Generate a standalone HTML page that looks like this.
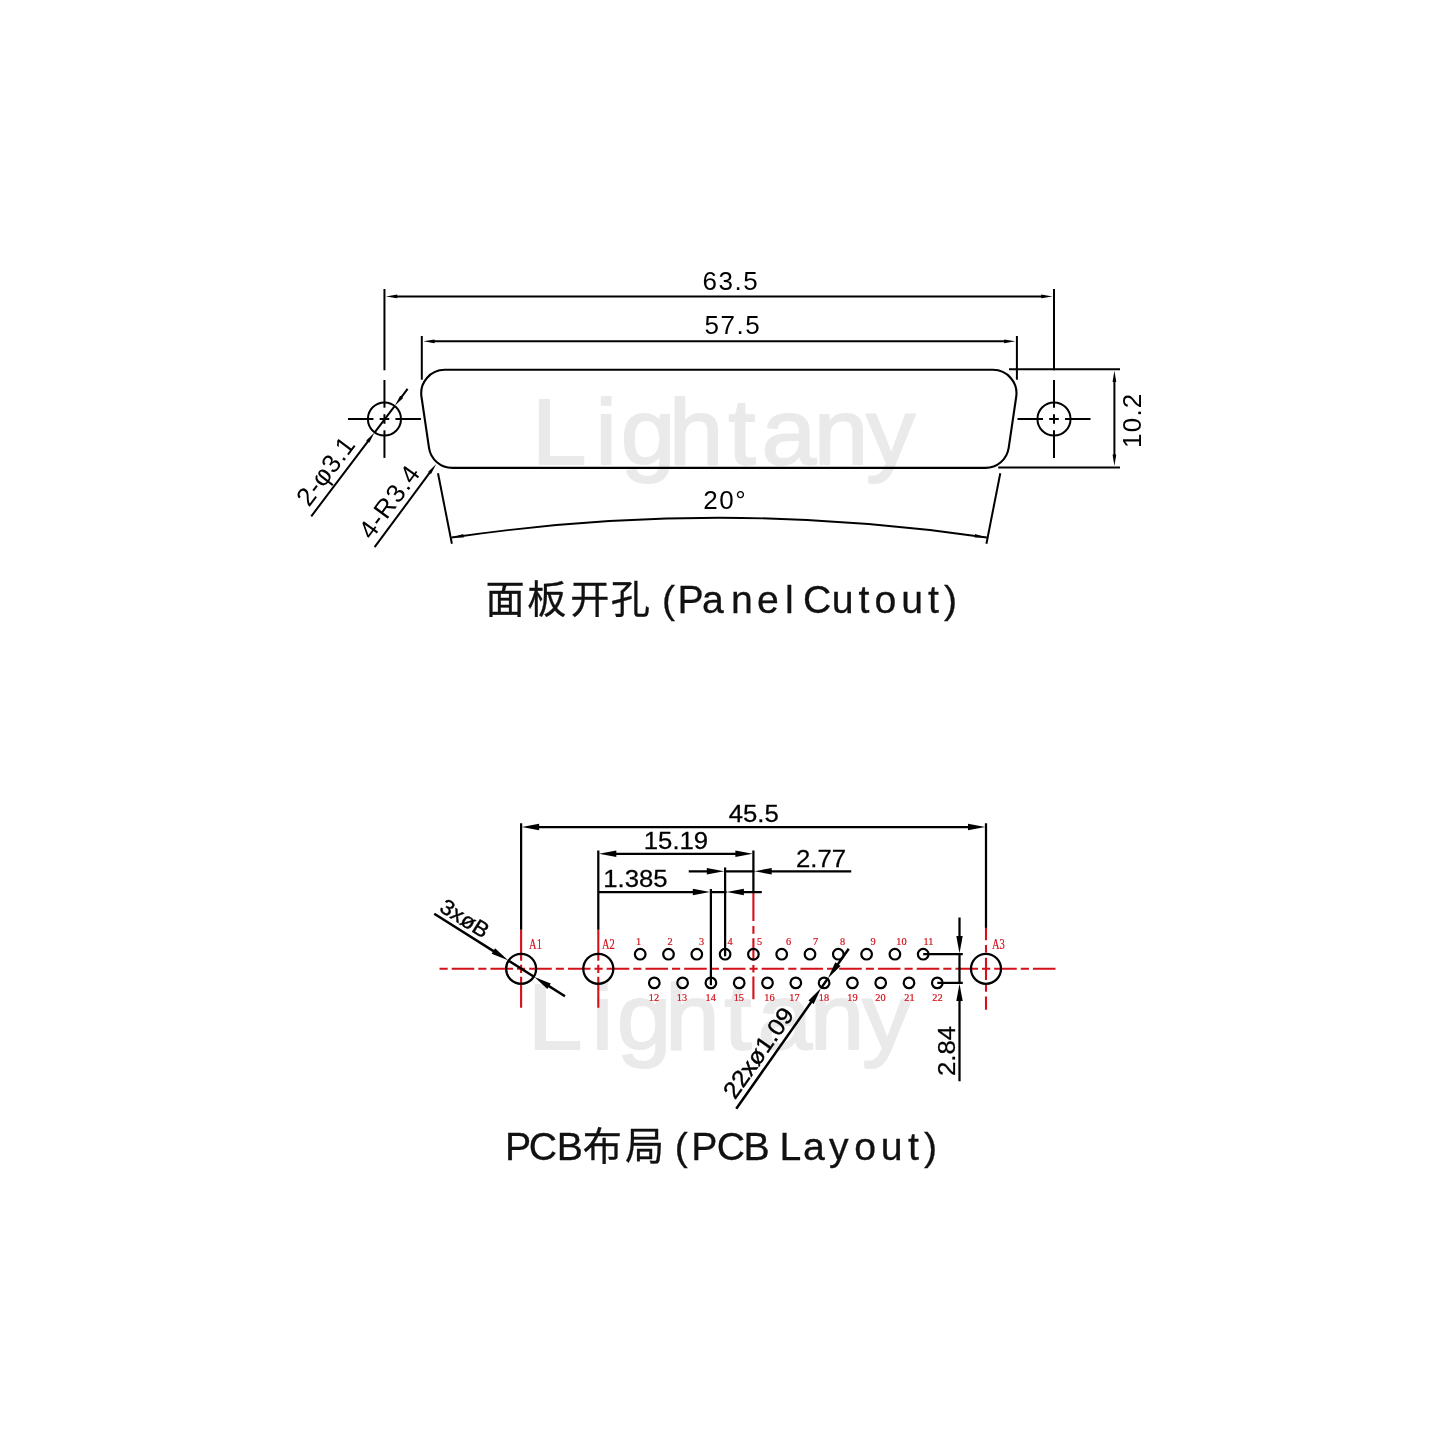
<!DOCTYPE html>
<html lang="zh">
<head>
<meta charset="utf-8">
<title>Panel Cutout / PCB Layout</title>
<style>
html,body{margin:0;padding:0;background:#fff;}
body{width:1440px;height:1440px;overflow:hidden;}
svg{display:block;will-change:transform;}
text{white-space:pre;}
</style>
</head>
<body>
<svg width="1440" height="1440" viewBox="0 0 1440 1440">
<rect width="1440" height="1440" fill="#fff"/>
<text x="497.0 556.4 580.1 625.1 680.6 711.7 760.5 809.4" y="463.9" transform="scale(1.07 1)" font-family='"Liberation Sans", "Noto Sans CJK SC", sans-serif' font-size="92" fill="#eaeaea" stroke="#eaeaea" stroke-width="1.8" stroke-linejoin="round">Lightany</text>
<text x="493.3 552.7 576.4 621.4 676.8 707.9 756.7 805.7" y="1048.9" transform="scale(1.07 1)" font-family='"Liberation Sans", "Noto Sans CJK SC", sans-serif' font-size="92" fill="#eaeaea" stroke="#eaeaea" stroke-width="1.8" stroke-linejoin="round">Lightany</text>
<line x1="384.45" y1="289.00" x2="384.45" y2="370.30" stroke="#000" stroke-width="2" />
<line x1="1054.00" y1="289.00" x2="1054.00" y2="370.30" stroke="#000" stroke-width="2" />
<path d="M 394.09 296.45 L 1044.36 296.45" stroke="#000" stroke-width="2" fill="none"/>
<polygon points="385.95,296.45 397.25,294.60 397.25,298.30" fill="#000"/>
<polygon points="1052.50,296.45 1041.20,298.30 1041.20,294.60" fill="#000"/>
<text transform="translate(730.90 289.50)" font-family='"Liberation Sans", sans-serif' font-size="26" text-anchor="middle" fill="#000" letter-spacing="1.6" >63.5</text>
<line x1="421.80" y1="336.00" x2="421.80" y2="379.70" stroke="#000" stroke-width="2" />
<line x1="1016.90" y1="336.00" x2="1016.90" y2="379.70" stroke="#000" stroke-width="2" />
<path d="M 431.44 341.35 L 1007.26 341.35" stroke="#000" stroke-width="2" fill="none"/>
<polygon points="423.30,341.35 434.60,339.50 434.60,343.20" fill="#000"/>
<polygon points="1015.40,341.35 1004.10,343.20 1004.10,339.50" fill="#000"/>
<text transform="translate(732.90 334.00)" font-family='"Liberation Sans", sans-serif' font-size="26" text-anchor="middle" fill="#000" letter-spacing="1.6" >57.5</text>
<circle cx="384.45" cy="419.00" r="16.55" fill="none" stroke="#000" stroke-width="2"/>
<line x1="347.95" y1="419.00" x2="373.45" y2="419.00" stroke="#000" stroke-width="2" />
<line x1="379.65" y1="419.00" x2="389.25" y2="419.00" stroke="#000" stroke-width="2" />
<line x1="395.45" y1="419.00" x2="420.95" y2="419.00" stroke="#000" stroke-width="2" />
<line x1="384.45" y1="380.00" x2="384.45" y2="407.70" stroke="#000" stroke-width="2" />
<line x1="384.45" y1="414.20" x2="384.45" y2="423.80" stroke="#000" stroke-width="2" />
<line x1="384.45" y1="430.30" x2="384.45" y2="457.90" stroke="#000" stroke-width="2" />
<circle cx="1054.00" cy="419.00" r="16.55" fill="none" stroke="#000" stroke-width="2"/>
<line x1="1017.50" y1="419.00" x2="1043.00" y2="419.00" stroke="#000" stroke-width="2" />
<line x1="1049.20" y1="419.00" x2="1058.80" y2="419.00" stroke="#000" stroke-width="2" />
<line x1="1065.00" y1="419.00" x2="1090.50" y2="419.00" stroke="#000" stroke-width="2" />
<line x1="1054.00" y1="380.00" x2="1054.00" y2="407.70" stroke="#000" stroke-width="2" />
<line x1="1054.00" y1="414.20" x2="1054.00" y2="423.80" stroke="#000" stroke-width="2" />
<line x1="1054.00" y1="430.30" x2="1054.00" y2="457.90" stroke="#000" stroke-width="2" />
<path d="M 444.72 369.8 L 992.98 369.8 A 23.5 23.5 0 0 1 1016.22 396.73 L 1008.68 447.83 A 23.5 23.5 0 0 1 985.43 467.9 L 452.27 467.9 A 23.5 23.5 0 0 1 429.02 447.83 L 421.48 396.73 A 23.5 23.5 0 0 1 444.72 369.8 Z" fill="none" stroke="#000" stroke-width="2.1" stroke-linejoin="round"/>
<line x1="1009.00" y1="369.30" x2="1120.00" y2="369.30" stroke="#000" stroke-width="2" />
<line x1="998.20" y1="467.40" x2="1120.00" y2="467.40" stroke="#000" stroke-width="2" />
<path d="M 1114.40 378.94 L 1114.40 457.76" stroke="#000" stroke-width="2" fill="none"/>
<polygon points="1114.40,370.80 1116.25,382.10 1112.55,382.10" fill="#000"/>
<polygon points="1114.40,465.90 1112.55,454.60 1116.25,454.60" fill="#000"/>
<text transform="translate(1141.30 420.20) rotate(-90.00)" font-family='"Liberation Sans", sans-serif' font-size="26" text-anchor="middle" fill="#000" letter-spacing="1.2" >10.2</text>
<line x1="438.00" y1="473.30" x2="451.90" y2="543.75" stroke="#000" stroke-width="2" />
<line x1="1000.30" y1="473.30" x2="986.40" y2="543.75" stroke="#000" stroke-width="2" />
<path d="M 451.5 537.5 Q 719.00 498 986.8 537.5" fill="none" stroke="#000" stroke-width="1.8"/>
<polygon points="452.30,537.40 463.21,533.92 463.75,537.58" fill="#000"/>
<polygon points="986.00,537.40 974.55,537.58 975.09,533.92" fill="#000"/>
<text transform="translate(725.30 509.40)" font-family='"Liberation Sans", sans-serif' font-size="26" text-anchor="middle" fill="#000" letter-spacing="1.6" >20°</text>
<path d="M 311.25 516.30 L 369.65 439.07 M 374.56 432.58 L 394.83 405.79 M 399.74 399.30 L 407.60 388.90" stroke="#000" stroke-width="2" fill="none"/>
<polygon points="374.56,432.58 369.22,442.71 366.27,440.48" fill="#000"/>
<polygon points="394.83,405.79 400.17,395.66 403.12,397.89" fill="#000"/>
<text transform="translate(308.90 507.80) rotate(-52.90)" font-family='"Liberation Sans", sans-serif' font-size="26" text-anchor="start" fill="#000" letter-spacing="0.5" >2-φ3.1</text>
<path d="M 374.60 547.20 L 431.41 470.44" stroke="#000" stroke-width="2" fill="none"/>
<polygon points="436.25,463.90 431.01,474.08 428.04,471.88" fill="#000"/>
<text transform="translate(371.60 540.80) rotate(-53.50)" font-family='"Liberation Sans", sans-serif' font-size="26" text-anchor="start" fill="#000" letter-spacing="1.05" >4-R3.4</text>
<text x="485.5 527.2 570.2 610.7 649.9 661.9 677.6 701.9 731.1 757.0 785.1 793.8 802.9 831.8 858.6 874.6 901.3 928.0 944.1" y="612.5" font-family='"Liberation Sans", "Noto Sans CJK SC", sans-serif' font-size="39.2" fill="#111" stroke="#111" stroke-width="0.3">面板开孔 (Panel Cutout)</text>
<line x1="439.53" y1="968.8" x2="1055.9" y2="968.8" stroke="#d4101a" stroke-width="2.1" stroke-dasharray="8.15 4.0 22.6 4.0"/>
<path d="M 521.10 929.60 V 960.80 M 521.10 964.70 V 973.00 M 521.10 976.80 V 1007.70" stroke="#d4101a" stroke-width="2.1" fill="none"/>
<path d="M 598.30 929.60 V 960.80 M 598.30 964.70 V 973.00 M 598.30 976.80 V 1007.70" stroke="#d4101a" stroke-width="2.1" fill="none"/>
<path d="M 986.00 927.80 V 940.30 M 986.00 944.90 V 952.50 M 986.00 957.70 V 979.90 M 986.00 985.10 V 991.70 M 986.00 996.60 V 1009.80" stroke="#d4101a" stroke-width="2.1" fill="none"/>
<path d="M 753.40 892.60 V 921.10 M 753.40 926.00 V 933.70 M 753.40 938.20 V 960.80 M 753.40 964.90 V 972.50 M 753.40 976.60 V 999.20" stroke="#d4101a" stroke-width="2.1" fill="none"/>
<circle cx="521.10" cy="968.80" r="15.00" fill="none" stroke="#000" stroke-width="2.25"/>
<circle cx="598.30" cy="968.80" r="15.00" fill="none" stroke="#000" stroke-width="2.25"/>
<circle cx="986.00" cy="968.80" r="15.00" fill="none" stroke="#000" stroke-width="2.25"/>
<circle cx="640.20" cy="954.20" r="5.30" fill="none" stroke="#000" stroke-width="2.2"/>
<circle cx="668.50" cy="954.20" r="5.30" fill="none" stroke="#000" stroke-width="2.2"/>
<circle cx="696.80" cy="954.20" r="5.30" fill="none" stroke="#000" stroke-width="2.2"/>
<circle cx="725.10" cy="954.20" r="5.30" fill="none" stroke="#000" stroke-width="2.2"/>
<circle cx="753.40" cy="954.20" r="5.30" fill="none" stroke="#000" stroke-width="2.2"/>
<circle cx="781.70" cy="954.20" r="5.30" fill="none" stroke="#000" stroke-width="2.2"/>
<circle cx="810.00" cy="954.20" r="5.30" fill="none" stroke="#000" stroke-width="2.2"/>
<circle cx="838.30" cy="954.20" r="5.30" fill="none" stroke="#000" stroke-width="2.2"/>
<circle cx="866.60" cy="954.20" r="5.30" fill="none" stroke="#000" stroke-width="2.2"/>
<circle cx="894.90" cy="954.20" r="5.30" fill="none" stroke="#000" stroke-width="2.2"/>
<circle cx="923.20" cy="954.20" r="5.30" fill="none" stroke="#000" stroke-width="2.2"/>
<circle cx="654.30" cy="982.90" r="5.30" fill="none" stroke="#000" stroke-width="2.2"/>
<circle cx="682.60" cy="982.90" r="5.30" fill="none" stroke="#000" stroke-width="2.2"/>
<circle cx="710.90" cy="982.90" r="5.30" fill="none" stroke="#000" stroke-width="2.2"/>
<circle cx="739.20" cy="982.90" r="5.30" fill="none" stroke="#000" stroke-width="2.2"/>
<circle cx="767.50" cy="982.90" r="5.30" fill="none" stroke="#000" stroke-width="2.2"/>
<circle cx="795.80" cy="982.90" r="5.30" fill="none" stroke="#000" stroke-width="2.2"/>
<circle cx="824.10" cy="982.90" r="5.30" fill="none" stroke="#000" stroke-width="2.2"/>
<circle cx="852.40" cy="982.90" r="5.30" fill="none" stroke="#000" stroke-width="2.2"/>
<circle cx="880.70" cy="982.90" r="5.30" fill="none" stroke="#000" stroke-width="2.2"/>
<circle cx="909.00" cy="982.90" r="5.30" fill="none" stroke="#000" stroke-width="2.2"/>
<circle cx="937.30" cy="982.90" r="5.30" fill="none" stroke="#000" stroke-width="2.2"/>
<line x1="521.10" y1="823.25" x2="521.10" y2="929.70" stroke="#000" stroke-width="2.25" />
<line x1="986.00" y1="823.25" x2="986.00" y2="927.90" stroke="#000" stroke-width="2.25" />
<path d="M 534.26 827.00 L 972.84 827.00" stroke="#000" stroke-width="2.25" fill="none"/>
<polygon points="521.80,827.00 539.10,823.80 539.10,830.20" fill="#000"/>
<polygon points="985.30,827.00 968.00,830.20 968.00,823.80" fill="#000"/>
<text transform="translate(753.75 821.90) scale(1.0950 1)" font-family='"Liberation Sans", sans-serif' font-size="23.5" text-anchor="middle" fill="#000"  stroke="#000" stroke-width="0.25">45.5</text>
<line x1="598.30" y1="850.50" x2="598.30" y2="929.70" stroke="#000" stroke-width="2.25" />
<line x1="753.40" y1="850.50" x2="753.40" y2="892.60" stroke="#000" stroke-width="2.25" />
<path d="M 611.46 853.75 L 740.24 853.75" stroke="#000" stroke-width="2.25" fill="none"/>
<polygon points="599.00,853.75 616.30,850.55 616.30,856.95" fill="#000"/>
<polygon points="752.70,853.75 735.40,856.95 735.40,850.55" fill="#000"/>
<text transform="translate(676.00 849.30) scale(1.0950 1)" font-family='"Liberation Sans", sans-serif' font-size="23.5" text-anchor="middle" fill="#000"  stroke="#000" stroke-width="0.25">15.19</text>
<path d="M 598.30 892.00 L 697.64 892.00 M 710.10 892.00 L 726.60 892.00 M 739.06 892.00 L 761.80 892.00" stroke="#000" stroke-width="2.25" fill="none"/>
<polygon points="710.10,892.00 692.80,895.20 692.80,888.80" fill="#000"/>
<polygon points="726.60,892.00 743.90,888.80 743.90,895.20" fill="#000"/>
<line x1="710.90" y1="889.00" x2="710.90" y2="985.20" stroke="#000" stroke-width="2.25" />
<line x1="725.10" y1="867.50" x2="725.10" y2="956.30" stroke="#000" stroke-width="2.25" />
<text transform="translate(635.50 887.40) scale(1.0950 1)" font-family='"Liberation Sans", sans-serif' font-size="23.5" text-anchor="middle" fill="#000"  stroke="#000" stroke-width="0.25">1.385</text>
<path d="M 688.75 871.25 L 711.64 871.25 M 724.10 871.25 L 754.40 871.25 M 766.86 871.25 L 851.25 871.25" stroke="#000" stroke-width="2.25" fill="none"/>
<polygon points="724.10,871.25 706.80,874.45 706.80,868.05" fill="#000"/>
<polygon points="754.40,871.25 771.70,868.05 771.70,874.45" fill="#000"/>
<text transform="translate(821.00 866.80) scale(1.0950 1)" font-family='"Liberation Sans", sans-serif' font-size="23.5" text-anchor="middle" fill="#000"  stroke="#000" stroke-width="0.25">2.77</text>
<path d="M 959.50 917.40 L 959.50 940.94 M 959.50 953.40 L 959.50 983.70 M 959.50 996.16 L 959.50 1081.25" stroke="#000" stroke-width="2.25" fill="none"/>
<polygon points="959.50,953.40 956.30,936.10 962.70,936.10" fill="#000"/>
<polygon points="959.50,983.70 962.70,1001.00 956.30,1001.00" fill="#000"/>
<line x1="923.20" y1="954.20" x2="962.80" y2="954.20" stroke="#000" stroke-width="2.25" />
<line x1="937.30" y1="982.90" x2="962.80" y2="982.90" stroke="#000" stroke-width="2.25" />
<text transform="translate(955.00 1051.00) rotate(-90.00) scale(1.0950 1)" font-family='"Liberation Sans", sans-serif' font-size="23.5" text-anchor="middle" fill="#000"  stroke="#000" stroke-width="0.25">2.84</text>
<path d="M 434.25 913.75 L 497.49 953.65 M 508.02 960.30 L 534.41 976.95 M 544.94 983.59 L 565.00 996.25" stroke="#000" stroke-width="2.5" fill="none"/>
<polygon points="508.02,960.30 491.68,953.77 495.10,948.36" fill="#000"/>
<polygon points="534.41,976.95 550.74,983.47 547.33,988.88" fill="#000"/>
<text transform="translate(438.30 910.60) rotate(32.25) scale(1.0550 1)" font-family='"Liberation Sans", sans-serif' font-size="21.6" text-anchor="start" fill="#000"  stroke="#000" stroke-width="0.4">3xøB</text>
<path d="M 736.25 1108.75 L 813.91 998.30 M 821.08 988.11 L 827.98 978.29 M 835.14 968.10 L 848.75 948.75" stroke="#000" stroke-width="2.5" fill="none"/>
<polygon points="821.08,988.11 813.74,1004.10 808.51,1000.42" fill="#000"/>
<polygon points="827.98,978.29 835.31,962.30 840.55,965.98" fill="#000"/>
<text transform="translate(735.00 1100.20) rotate(-54.89) scale(1.0670 1)" font-family='"Liberation Sans", sans-serif' font-size="23.5" text-anchor="start" fill="#000"  stroke="#000" stroke-width="0.4">22xø1.09</text>
<text transform="translate(535.50 949.20) scale(0.7000 1)" font-family='"Liberation Serif", serif' font-size="15" text-anchor="middle" fill="#d4101a" stroke="#d4101a" stroke-width="0.22">A1</text>
<text transform="translate(608.30 949.20) scale(0.7000 1)" font-family='"Liberation Serif", serif' font-size="15" text-anchor="middle" fill="#d4101a" stroke="#d4101a" stroke-width="0.22">A2</text>
<text transform="translate(998.40 949.00) scale(0.7000 1)" font-family='"Liberation Serif", serif' font-size="15" text-anchor="middle" fill="#d4101a" stroke="#d4101a" stroke-width="0.22">A3</text>
<text transform="translate(638.50 944.70) scale(0.9200 1)" font-family='"Liberation Serif", serif' font-size="11.2" text-anchor="middle" fill="#d4101a" stroke="#d4101a" stroke-width="0.22">1</text>
<text transform="translate(670.00 944.70) scale(0.9200 1)" font-family='"Liberation Serif", serif' font-size="11.2" text-anchor="middle" fill="#d4101a" stroke="#d4101a" stroke-width="0.22">2</text>
<text transform="translate(701.50 944.70) scale(0.9200 1)" font-family='"Liberation Serif", serif' font-size="11.2" text-anchor="middle" fill="#d4101a" stroke="#d4101a" stroke-width="0.22">3</text>
<text transform="translate(730.00 944.70) scale(0.9200 1)" font-family='"Liberation Serif", serif' font-size="11.2" text-anchor="middle" fill="#d4101a" stroke="#d4101a" stroke-width="0.22">4</text>
<text transform="translate(759.50 944.70) scale(0.9200 1)" font-family='"Liberation Serif", serif' font-size="11.2" text-anchor="middle" fill="#d4101a" stroke="#d4101a" stroke-width="0.22">5</text>
<text transform="translate(788.50 944.70) scale(0.9200 1)" font-family='"Liberation Serif", serif' font-size="11.2" text-anchor="middle" fill="#d4101a" stroke="#d4101a" stroke-width="0.22">6</text>
<text transform="translate(815.50 944.70) scale(0.9200 1)" font-family='"Liberation Serif", serif' font-size="11.2" text-anchor="middle" fill="#d4101a" stroke="#d4101a" stroke-width="0.22">7</text>
<text transform="translate(842.50 944.70) scale(0.9200 1)" font-family='"Liberation Serif", serif' font-size="11.2" text-anchor="middle" fill="#d4101a" stroke="#d4101a" stroke-width="0.22">8</text>
<text transform="translate(873.00 944.70) scale(0.9200 1)" font-family='"Liberation Serif", serif' font-size="11.2" text-anchor="middle" fill="#d4101a" stroke="#d4101a" stroke-width="0.22">9</text>
<text transform="translate(901.50 944.70) scale(0.9200 1)" font-family='"Liberation Serif", serif' font-size="11.2" text-anchor="middle" fill="#d4101a" stroke="#d4101a" stroke-width="0.22">10</text>
<text transform="translate(928.50 944.70) scale(0.9200 1)" font-family='"Liberation Serif", serif' font-size="11.2" text-anchor="middle" fill="#d4101a" stroke="#d4101a" stroke-width="0.22">11</text>
<text transform="translate(654.00 1000.90) scale(0.9200 1)" font-family='"Liberation Serif", serif' font-size="11.2" text-anchor="middle" fill="#d4101a" stroke="#d4101a" stroke-width="0.22">12</text>
<text transform="translate(682.00 1000.90) scale(0.9200 1)" font-family='"Liberation Serif", serif' font-size="11.2" text-anchor="middle" fill="#d4101a" stroke="#d4101a" stroke-width="0.22">13</text>
<text transform="translate(710.70 1000.90) scale(0.9200 1)" font-family='"Liberation Serif", serif' font-size="11.2" text-anchor="middle" fill="#d4101a" stroke="#d4101a" stroke-width="0.22">14</text>
<text transform="translate(738.80 1000.90) scale(0.9200 1)" font-family='"Liberation Serif", serif' font-size="11.2" text-anchor="middle" fill="#d4101a" stroke="#d4101a" stroke-width="0.22">15</text>
<text transform="translate(769.50 1000.90) scale(0.9200 1)" font-family='"Liberation Serif", serif' font-size="11.2" text-anchor="middle" fill="#d4101a" stroke="#d4101a" stroke-width="0.22">16</text>
<text transform="translate(794.50 1000.90) scale(0.9200 1)" font-family='"Liberation Serif", serif' font-size="11.2" text-anchor="middle" fill="#d4101a" stroke="#d4101a" stroke-width="0.22">17</text>
<text transform="translate(824.00 1000.90) scale(0.9200 1)" font-family='"Liberation Serif", serif' font-size="11.2" text-anchor="middle" fill="#d4101a" stroke="#d4101a" stroke-width="0.22">18</text>
<text transform="translate(852.50 1000.90) scale(0.9200 1)" font-family='"Liberation Serif", serif' font-size="11.2" text-anchor="middle" fill="#d4101a" stroke="#d4101a" stroke-width="0.22">19</text>
<text transform="translate(880.50 1000.90) scale(0.9200 1)" font-family='"Liberation Serif", serif' font-size="11.2" text-anchor="middle" fill="#d4101a" stroke="#d4101a" stroke-width="0.22">20</text>
<text transform="translate(909.50 1000.90) scale(0.9200 1)" font-family='"Liberation Serif", serif' font-size="11.2" text-anchor="middle" fill="#d4101a" stroke="#d4101a" stroke-width="0.22">21</text>
<text transform="translate(937.50 1000.90) scale(0.9200 1)" font-family='"Liberation Serif", serif' font-size="11.2" text-anchor="middle" fill="#d4101a" stroke="#d4101a" stroke-width="0.22">22</text>
<text x="505.1 528.8 556.8 582.8 625.1 664.3 674.7 691.3 716.8 743.5 769.6 779.6 802.9 829.1 854.2 880.8 908.0 924.1" y="1160.2" font-family='"Liberation Sans", "Noto Sans CJK SC", sans-serif' font-size="39.2" fill="#111" stroke="#111" stroke-width="0.3">PCB布局 (PCB Layout)</text>
</svg>
</body>
</html>
